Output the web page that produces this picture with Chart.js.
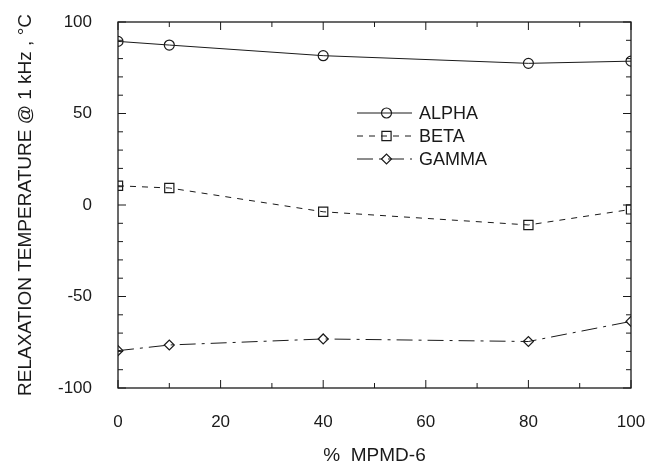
<!DOCTYPE html>
<html>
<head>
<meta charset="utf-8">
<script src="https://cdn.jsdelivr.net/npm/chart.js@4.4.1/dist/chart.umd.min.js"></script>
<style>
  html, body { margin: 0; padding: 0; background: #fff; }
  #wrap { width: 649px; height: 463px; position: relative; }
</style>
</head>
<body>
<div id="wrap"><canvas id="c" width="649" height="463"></canvas></div>
<script>
// Composition (% MPMD-6) and relaxation temperatures (°C at 1 kHz)
const compositions = [0, 10, 40, 80, 100];
const alphaTemps = [89.4, 87.4, 81.6, 77.4, 78.6];
const betaTemps = [10.5, 9.3, -3.7, -10.9, -2.4];
const gammaTemps = [-79.6, -76.5, -73.2, -74.6, -63.6];
const seriesNames = ['ALPHA', 'BETA', 'GAMMA'];
const xTickValues = [0, 20, 40, 60, 80, 100];
const yTickValues = [-100, -50, 0, 50, 100];

const INK = '#1a1a1a';
const FONT = '"Liberation Sans", Arial, Helvetica, sans-serif';

const toPoints = (vals) => compositions.map((x, i) => ({ x: x, y: vals[i] }));

const styles = [
  { pointStyle: 'circle', dash: [], radius: 5 },
  { pointStyle: 'rect', dash: [6, 6], radius: 6.5 },
  { pointStyle: 'rectRot', dash: [16, 6, 3, 6], radius: 5 }
];

const datasets = [alphaTemps, betaTemps, gammaTemps].map((vals, i) => ({
  label: seriesNames[i],
  data: toPoints(vals),
  showLine: true,
  borderColor: INK,
  borderWidth: 1,
  borderDash: styles[i].dash,
  pointStyle: styles[i].pointStyle,
  pointRadius: styles[i].radius,
  pointBorderColor: INK,
  pointBackgroundColor: 'rgba(0,0,0,0)',
  pointBorderWidth: 1.2,
  fill: false,
  tension: 0
}));

// Frame with inward tick marks on all four sides, plus the in-plot key
const framePlugin = {
  id: 'frame',
  afterDatasetsDraw(chart) {
    const { ctx, chartArea: a, scales } = chart;
    const xs = scales.x, ys = scales.y;
    ctx.save();
    ctx.strokeStyle = INK;
    ctx.lineWidth = 1.3;
    ctx.setLineDash([]);
    ctx.strokeRect(a.left, a.top, a.right - a.left, a.bottom - a.top);
    ctx.lineWidth = 1;
    ctx.beginPath();
    for (let v = 0; v <= 100; v += 10) {
      const px = xs.getPixelForValue(v);
      const len = v % 20 === 0 ? 8 : 5;
      ctx.moveTo(px, a.bottom); ctx.lineTo(px, a.bottom - len);
      ctx.moveTo(px, a.top); ctx.lineTo(px, a.top + len);
    }
    for (let v = -100; v <= 100; v += 10) {
      const py = ys.getPixelForValue(v);
      const len = v % 50 === 0 ? 8 : 5;
      ctx.moveTo(a.left, py); ctx.lineTo(a.left + len, py);
      ctx.moveTo(a.right, py); ctx.lineTo(a.right - len, py);
    }
    ctx.stroke();

    // key
    const keyX0 = 357, keyX1 = 412, keyTextX = 419;
    const keyY = [113, 136, 159];
    chart.data.datasets.forEach((ds, i) => {
      const y = keyY[i];
      ctx.strokeStyle = INK;
      ctx.lineWidth = 1;
      ctx.setLineDash(ds.borderDash || []);
      ctx.beginPath();
      ctx.moveTo(keyX0, y); ctx.lineTo(keyX1, y);
      ctx.stroke();
      ctx.setLineDash([]);
      ctx.lineWidth = 1.2;
      ctx.fillStyle = 'rgba(0,0,0,0)';
      Chart.helpers.drawPoint(ctx, {
        pointStyle: ds.pointStyle, radius: ds.pointRadius, rotation: 0, borderWidth: 1.2
      }, (keyX0 + keyX1) / 2 + 2, y);
      ctx.fillStyle = INK;
      ctx.font = '18px ' + FONT;
      ctx.textBaseline = 'middle';
      ctx.textAlign = 'left';
      ctx.fillText(ds.label, keyTextX, y + 1);
    });
    ctx.restore();
  }
};

new Chart(document.getElementById('c'), {
  type: 'scatter',
  data: { datasets },
  plugins: [framePlugin],
  options: {
    responsive: false,
    animation: false,
    layout: { padding: { left: 0, top: 22, right: 18, bottom: 0 } },
    plugins: { legend: { display: false }, tooltip: { enabled: false } },
    scales: {
      x: {
        type: 'linear', min: 0, max: 100,
        grid: { display: false },
        border: { display: false },
        afterBuildTicks: (s) => { s.ticks = xTickValues.map(v => ({ value: v })); },
        afterFit: (s) => { s.height = 75; s.paddingLeft = 0; s.paddingRight = 0; },
        ticks: { color: INK, padding: 16, font: { family: FONT, size: 17 } },
        title: { display: true, text: '%  MPMD-6', color: INK, padding: { top: -4, bottom: -4 },
                 font: { family: FONT, size: 19 } }
      },
      y: {
        type: 'linear', min: -100, max: 100,
        grid: { display: false },
        border: { display: false },
        afterBuildTicks: (s) => { s.ticks = yTickValues.map(v => ({ value: v })); },
        afterFit: (s) => { s.width = 118; s.paddingTop = 0; s.paddingBottom = 0; },
        ticks: { color: INK, padding: 18, font: { family: FONT, size: 17 } },
        title: { display: true, text: 'RELAXATION TEMPERATURE @ 1 kHz , \u00B0C', color: INK,
                 padding: { top: 14, bottom: 0 }, font: { family: FONT, size: 19 } }
      }
    }
  }
});
</script>
</body>
</html>
